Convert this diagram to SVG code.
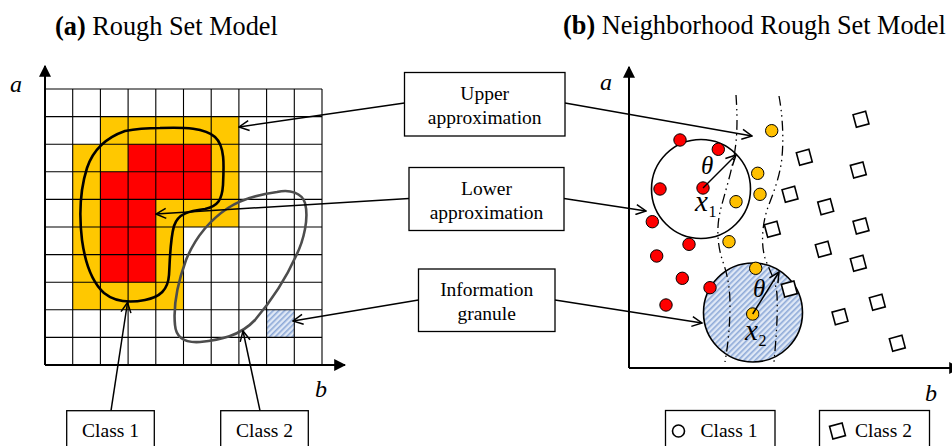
<svg xmlns="http://www.w3.org/2000/svg" width="952" height="446" viewBox="0 0 952 446">
<style>
.t{font-family:"Liberation Serif","Times New Roman",serif;fill:#000}
.lbl{font-size:19.5px;text-anchor:middle}
.ttl{font-size:26.3px}
.ax{font-family:"Liberation Serif",serif;font-style:italic;font-size:24px}
.box{fill:#fff;stroke:#000;stroke-width:1.3}
.conn{fill:none;stroke:#000;stroke-width:1.5}
.axis{fill:none;stroke:#000;stroke-width:2}
.grid{fill:none;stroke:#000;stroke-width:1.1}
.y{fill:#ffc800}
.r{fill:#ff0000}
.rd{fill:#ff0000;stroke:#000;stroke-width:1}
.yd{fill:#ffc000;stroke:#000;stroke-width:1}
.sq{fill:#fff;stroke:#000;stroke-width:1.6}
.dd{fill:none;stroke:#000;stroke-width:1.3;stroke-dasharray:10 4 1.5 4 1.5 4}
</style>
<defs>
<marker id="open" viewBox="0 0 12 12" refX="11" refY="6" markerWidth="12" markerHeight="12" markerUnits="userSpaceOnUse" orient="auto">
<path d="M1,1 L11,6 L1,11" fill="none" stroke="#000" stroke-width="1.5"/>
</marker>
<marker id="tri" viewBox="0 0 10 10" refX="9" refY="5" markerWidth="12" markerHeight="12" markerUnits="userSpaceOnUse" orient="auto">
<path d="M0,0 L10,5 L0,10 Z" fill="#000"/>
</marker>
<pattern id="hatch" patternUnits="userSpaceOnUse" width="4" height="4" patternTransform="rotate(45)">
<rect width="4" height="4" fill="#dfe8f6"/>
<rect width="1.6" height="4" fill="#8eaad8"/>
</pattern>
<rect id="sq" x="-6.5" y="-6.5" width="13" height="13" class="sq"/>
</defs>

<!-- titles -->
<text class="t ttl" x="55" y="35"><tspan font-weight="bold">(a)</tspan> Rough Set Model</text>
<text class="t ttl" x="563" y="34"><tspan font-weight="bold">(b)</tspan> Neighborhood Rough Set Model</text>

<!-- left panel: grid -->
<g id="grid-left">
<rect class="y" x="100.4" y="116.6" width="138.5" height="27.6"/>
<rect class="y" x="72.7" y="144.2" width="166.2" height="82.8"/>
<rect class="y" x="72.7" y="227" width="110.8" height="82.8"/>
<rect class="r" x="128.1" y="144.2" width="83.1" height="27.6"/>
<rect class="r" x="100.4" y="171.8" width="110.8" height="27.6"/>
<rect class="r" x="100.4" y="199.4" width="55.4" height="82.8"/>
<rect x="266.6" y="309.8" width="27.7" height="27.6" fill="url(#hatch)"/>
<path class="grid" d="M45,89H322M45,116.6H322M45,144.2H322M45,171.8H322M45,199.4H322M45,227H322M45,254.6H322M45,282.2H322M45,309.8H322M45,337.4H322M45,365H322
M45,89V365M72.7,89V365M100.4,89V365M128.1,89V365M155.8,89V365M183.5,89V365M211.2,89V365M238.9,89V365M266.6,89V365M294.3,89V365M322,89V365"/>
<path class="axis" d="M45,365V66" marker-end="url(#tri)"/>
<path class="axis" d="M45,365H345" marker-end="url(#tri)"/>
<text class="ax" x="10" y="92">a</text>
<text class="ax" x="315" y="397">b</text>
</g>

<g id="class1-region">
<path d="M160,128 C185,127 205,128 215,137 C225,146 224,165 223,185 C222,200 218,206 205,209 C190,211 178,213 174,226 C170,240 170,260 169,275 C168,290 160,297 145,300 C130,303 115,302 104,293 C92,282 85,262 82,240 C79,215 80,190 87,168 C93,150 105,138 125,131 C140,128 150,128 160,128 Z" fill="none" stroke="#000" stroke-width="2.6"/>
</g>
<g id="class2-region">
<path d="M277,192 C290,189 302,193 305,203 C309,218 304,240 296,256 C287,276 272,300 255,320 C240,336 220,340 200,342 C185,343 176,338 175,325 C173,305 178,282 186,260 C195,238 210,220 228,208 C243,198 262,194 277,192 Z" fill="none" stroke="#4d4d4d" stroke-width="2.6"/>
</g>

<!-- right panel -->
<g id="panel-right">
<path class="axis" d="M629,368V67" marker-end="url(#tri)"/>
<path class="axis" d="M629,368H960" marker-end="url(#tri)"/>
<text class="ax" x="600" y="90">a</text>
<text class="ax" x="925" y="401">b</text>
</g>

<g id="granule1">
<circle cx="701" cy="189" r="49.5" fill="none" stroke="#000" stroke-width="1.6"/>
</g>
<g id="granule2">
<circle cx="753" cy="312.5" r="49.5" fill="url(#hatch)" stroke="#000" stroke-width="1.6"/>
</g>

<g id="boundaries">
<path class="dd" d="M736,95 C737,110 738,130 735,150 C732,172 724,195 720,212 C716,230 718,248 723,262 C728,276 730,290 730,305 C730,325 728,345 725,362"/>
<path class="dd" d="M779,96 C782,112 784,135 782,157 C780,178 772,196 767,210 C762,226 761,245 765,258 C769,270 776,280 777,295 C778,315 776,340 774,362"/>
</g>

<g id="class1-points">
<circle class="rd" cx="680" cy="140" r="6.2"/>
<circle class="rd" cx="718.3" cy="149.3" r="6.2"/>
<circle class="rd" cx="660" cy="189" r="6.2"/>
<circle class="rd" cx="703" cy="188" r="6.2"/>
<circle class="rd" cx="652.3" cy="221.7" r="6.2"/>
<circle class="rd" cx="689" cy="244.3" r="6.2"/>
<circle class="rd" cx="656.7" cy="256" r="6.2"/>
<circle class="rd" cx="682.3" cy="278.3" r="6.2"/>
<circle class="rd" cx="710" cy="287.7" r="6.2"/>
<circle class="rd" cx="666" cy="305" r="6.2"/>
<circle class="yd" cx="771.7" cy="130.7" r="6.2"/>
<circle class="yd" cx="757.7" cy="173.3" r="6.2"/>
<circle class="yd" cx="760" cy="194.3" r="6.2"/>
<circle class="yd" cx="736" cy="201.7" r="6.2"/>
<circle class="yd" cx="729" cy="241.7" r="6.2"/>
<circle class="yd" cx="755.7" cy="268.3" r="6.2"/>
<circle class="yd" cx="752.7" cy="314" r="6.2"/>
</g>

<g id="class2-points">
<use href="#sq" transform="translate(861,119.3) rotate(-15)"/>
<use href="#sq" transform="translate(804.3,157.3) rotate(-15)"/>
<use href="#sq" transform="translate(858.3,170) rotate(-15)"/>
<use href="#sq" transform="translate(790,194.3) rotate(-15)"/>
<use href="#sq" transform="translate(825.7,206.7) rotate(-15)"/>
<use href="#sq" transform="translate(861,226) rotate(-15)"/>
<use href="#sq" transform="translate(772.3,229.3) rotate(-15)"/>
<use href="#sq" transform="translate(823.3,249.3) rotate(-15)"/>
<use href="#sq" transform="translate(858.3,263.3) rotate(-15)"/>
<use href="#sq" transform="translate(789.3,289) rotate(-15)"/>
<use href="#sq" transform="translate(877.3,302.3) rotate(-15)"/>
<use href="#sq" transform="translate(840,316.7) rotate(-15)"/>
<use href="#sq" transform="translate(897.3,343.3) rotate(-15)"/>
</g>

<g id="radius-labels">
<path class="conn" d="M703,188 L736,155" marker-end="url(#open)"/>
<path class="conn" d="M752.7,314 L779,272" marker-end="url(#open)"/>
<text class="t" x="701" y="174" font-size="25" font-style="italic">θ</text>
<text class="t" x="753" y="297" font-size="25" font-style="italic">θ</text>
<text class="t" x="695" y="211" font-size="29" font-style="italic">x</text>
<text class="t" x="708.5" y="217" font-size="16">1</text>
<text class="t" x="745" y="340" font-size="29" font-style="italic">x</text>
<text class="t" x="758.5" y="346" font-size="16">2</text>
</g>

<!-- label nodes -->
<g id="upper-approx">
<rect class="box" x="404.5" y="72.5" width="160.5" height="63.5"/>
<text class="t lbl" x="484.7" y="100">Upper</text>
<text class="t lbl" x="484.7" y="123.5">approximation</text>
</g>
<g id="lower-approx">
<rect class="box" x="409" y="167.5" width="155" height="63"/>
<text class="t lbl" x="486.5" y="195">Lower</text>
<text class="t lbl" x="486.5" y="218.5">approximation</text>
</g>
<g id="info-granule">
<rect class="box" x="418.5" y="269" width="136.5" height="62.5"/>
<text class="t lbl" x="486.7" y="296">Information</text>
<text class="t lbl" x="486.7" y="319.5">granule</text>
</g>
<g id="class1-left">
<rect class="box" x="66.7" y="410.7" width="87.6" height="50"/>
<text class="t lbl" x="110.5" y="437">Class 1</text>
</g>
<g id="class2-left">
<rect class="box" x="220.7" y="410.7" width="87.6" height="50"/>
<text class="t lbl" x="264.5" y="437">Class 2</text>
</g>
<g id="legend-class1">
<rect class="box" x="665.5" y="410.5" width="109.5" height="50"/>
<circle cx="678.5" cy="431" r="6" fill="#fff" stroke="#000" stroke-width="1.6"/>
<text class="t" x="700.5" y="437" font-size="19.5">Class 1</text>
</g>
<g id="legend-class2">
<rect class="box" x="819.5" y="410.5" width="110" height="50"/>
<use href="#sq" transform="translate(837.5,431) rotate(-15)"/>
<text class="t" x="855" y="437" font-size="19.5">Class 2</text>
</g>

<g id="connectors">
<path class="conn" d="M404.5,103 L239,127" marker-end="url(#open)"/>
<path class="conn" d="M565,103 L752,136" marker-end="url(#open)"/>
<path class="conn" d="M409,198.5 L156,214" marker-end="url(#open)"/>
<path class="conn" d="M564,198.5 L646,211" marker-end="url(#open)"/>
<path class="conn" d="M418.5,300 L293,321" marker-end="url(#open)"/>
<path class="conn" d="M555,300 L702,323" marker-end="url(#open)"/>
<path class="conn" d="M111,410.7 L127.5,302.5" marker-end="url(#open)"/>
<path class="conn" d="M260,410.7 L243,331" marker-end="url(#open)"/>
</g>
</svg>
